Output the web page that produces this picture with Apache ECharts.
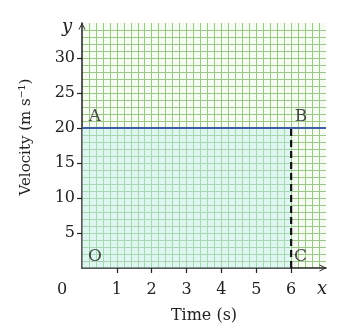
<!DOCTYPE html>
<html>
<head>
<meta charset="utf-8">
<script src="https://cdn.jsdelivr.net/npm/echarts@6/dist/echarts.min.js"></script>
<style>
  html, body { margin: 0; padding: 0; background: #fff; }
  #chart { width: 342px; height: 330px; }
</style>
</head>
<body>
<div id="chart"></div>
<script>
// data
var xTicks = [1, 2, 3, 4, 5, 6];
var yTicks = [5, 10, 15, 20, 25, 30];
var velocityLine = [[0, 20], [7, 20]];   // v = 20 m/s
var areaUnder = [[0, 20], [6, 20]];      // O-A-B-C area
var dropLine = [[6, 0], [6, 20]];        // B to C
var pointNames = ['A', 'B', 'O', 'C'];
var pointX = [0.37, 6.28, 0.37, 6.27];
var pointY = [21.7, 21.7, 1.7, 1.6];

var font = 'DejaVu Serif';
var gridColor = '#9cc68a';
var chevron = 'path://M0,100 L50,0 L100,100 L86,100 L50,26 L14,100 Z';

var labelPoints = [];
for (var i = 0; i < pointNames.length; i++) {
    labelPoints.push([pointX[i], pointY[i], pointNames[i]]);
}

var chart = echarts.init(document.getElementById('chart'));
var option = {
    animation: false,
    grid: {
        left: 82, top: 23, width: 244, height: 245,
        show: true, backgroundColor: '#f6fcf1', borderWidth: 0
    },
    xAxis: {
        type: 'value', min: 0, max: 7, interval: 1,
        axisLine: {
            show: true, onZero: false,
            lineStyle: {color: '#222', width: 1.5},
            symbol: ['none', chevron], symbolSize: [13, 7], symbolOffset: [0, -3]
        },
        axisTick: {show: true, customValues: xTicks, length: 5, lineStyle: {color: '#222', width: 1.2}},
        axisLabel: {customValues: xTicks, margin: 14, color: '#222', fontFamily: font, fontSize: 16},
        splitLine: {show: true, lineStyle: {color: gridColor, width: 1}},
        minorTick: {show: false, splitNumber: 5},
        minorSplitLine: {show: true, lineStyle: {color: gridColor, width: 1}},
        name: 'Time (s)', nameLocation: 'middle', nameGap: 40,
        nameTextStyle: {color: '#222', fontFamily: font, fontSize: 16}
    },
    yAxis: {
        type: 'value', min: 0, max: 35, interval: 5,
        axisLine: {
            show: true, onZero: false,
            lineStyle: {color: '#222', width: 1.5},
            symbol: ['none', chevron], symbolSize: [13, 7], symbolOffset: [0, -3]
        },
        axisTick: {show: true, customValues: yTicks, length: 5, lineStyle: {color: '#222', width: 1.2}},
        axisLabel: {customValues: yTicks, margin: 7, color: '#222', fontFamily: font, fontSize: 16},
        splitLine: {show: true, lineStyle: {color: gridColor, width: 1}},
        minorTick: {show: false, splitNumber: 5},
        minorSplitLine: {show: true, lineStyle: {color: gridColor, width: 1}}
    },
    graphic: [
        {type: 'text', x: 62, y: 290, style: {text: '0', fontFamily: font, fontSize: 16, fill: '#222', align: 'center', verticalAlign: 'middle'}},
        {type: 'text', x: 322, y: 289, style: {text: 'x', fontFamily: font, fontStyle: 'italic', fontSize: 18, fill: '#222', align: 'center', verticalAlign: 'middle'}},
        {type: 'text', x: 67, y: 27, style: {text: 'y', fontFamily: font, fontStyle: 'italic', fontSize: 18, fill: '#222', align: 'center', verticalAlign: 'middle'}},
        {type: 'text', x: 26, y: 137, rotation: Math.PI / 2, style: {text: 'Velocity (m s\u207B\u00B9)', fontFamily: font, fontSize: 15, fill: '#222', align: 'center', verticalAlign: 'middle'}}
    ],
    series: [
        {
            type: 'line', data: areaUnder, symbol: 'none', silent: true,
            lineStyle: {width: 0},
            areaStyle: {color: 'rgba(185,238,236,0.6)', origin: 'start'},
            z: 1
        },
        {
            type: 'line', data: dropLine, symbol: 'none', silent: true,
            lineStyle: {color: '#111', width: 2.2, type: [7, 4]},
            z: 3
        },
        {
            type: 'line', data: velocityLine, symbol: 'none', silent: true,
            lineStyle: {color: '#3d5ea6', width: 2},
            z: 4
        },
        {
            type: 'scatter', data: labelPoints, symbolSize: 0, silent: true,
            label: {
                show: true, position: 'inside', color: '#222', fontFamily: font, fontSize: 17,
                formatter: function (p) { return p.value[2]; }
            },
            z: 5
        }
    ]
};
chart.setOption(option);
</script>
</body>
</html>
